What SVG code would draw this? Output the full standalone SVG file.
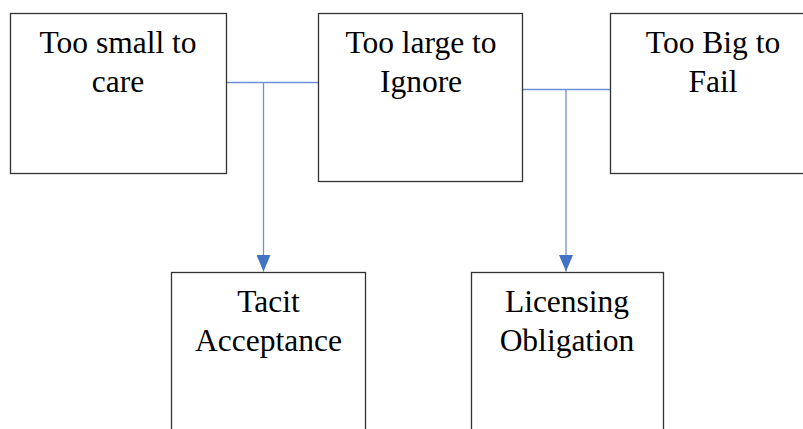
<svg xmlns="http://www.w3.org/2000/svg" width="803" height="429" viewBox="0 0 803 429">
<style>
.box{fill:#ffffff;stroke:#333333;stroke-width:1.3}
.lbl{font-family:"Liberation Serif","Times New Roman",serif;font-size:31.5px;fill:#000000;text-anchor:middle}
.con{fill:none;stroke:#6f90d4;stroke-width:1.3}
</style>
<defs>
<marker id="arr" markerUnits="userSpaceOnUse" markerWidth="16.5" markerHeight="14" refX="16.5" refY="7" orient="auto" viewBox="0 0 16.5 14">
<path d="M0,0 L16.5,7 L0,14 Z" fill="#4472c4"/>
</marker>
</defs>
<rect width="803" height="429" fill="#ffffff"/>
<g id="connectors">
<path class="con" d="M226,82.5 H318.5"/>
<path class="con" d="M263.5,82.5 V271.5" marker-end="url(#arr)"/>
<path class="con" d="M522.5,89.5 H610.5"/>
<path class="con" d="M566,89.5 V271.5" marker-end="url(#arr)"/>
</g>
<g id="node-small">
<rect class="box" x="10.5" y="13.5" width="216" height="160"/>
<text class="lbl" x="118" y="53">Too small to</text>
<text class="lbl" x="118" y="91.5">care</text>
</g>
<g id="node-large">
<rect class="box" x="318.5" y="13.5" width="204" height="168"/>
<text class="lbl" x="421" y="53">Too large to</text>
<text class="lbl" x="421" y="91.5">Ignore</text>
</g>
<g id="node-big">
<rect class="box" x="610.5" y="13.5" width="206" height="160"/>
<text class="lbl" x="713" y="53">Too Big to</text>
<text class="lbl" x="713" y="91.5">Fail</text>
</g>
<g id="node-tacit">
<rect class="box" x="171.5" y="272.5" width="194" height="170"/>
<text class="lbl" x="268.5" y="311.5">Tacit</text>
<text class="lbl" x="268.5" y="350.5">Acceptance</text>
</g>
<g id="node-licensing">
<rect class="box" x="471.5" y="272.5" width="192" height="170"/>
<text class="lbl" x="567" y="311.5">Licensing</text>
<text class="lbl" x="567" y="350.5">Obligation</text>
</g>
</svg>
